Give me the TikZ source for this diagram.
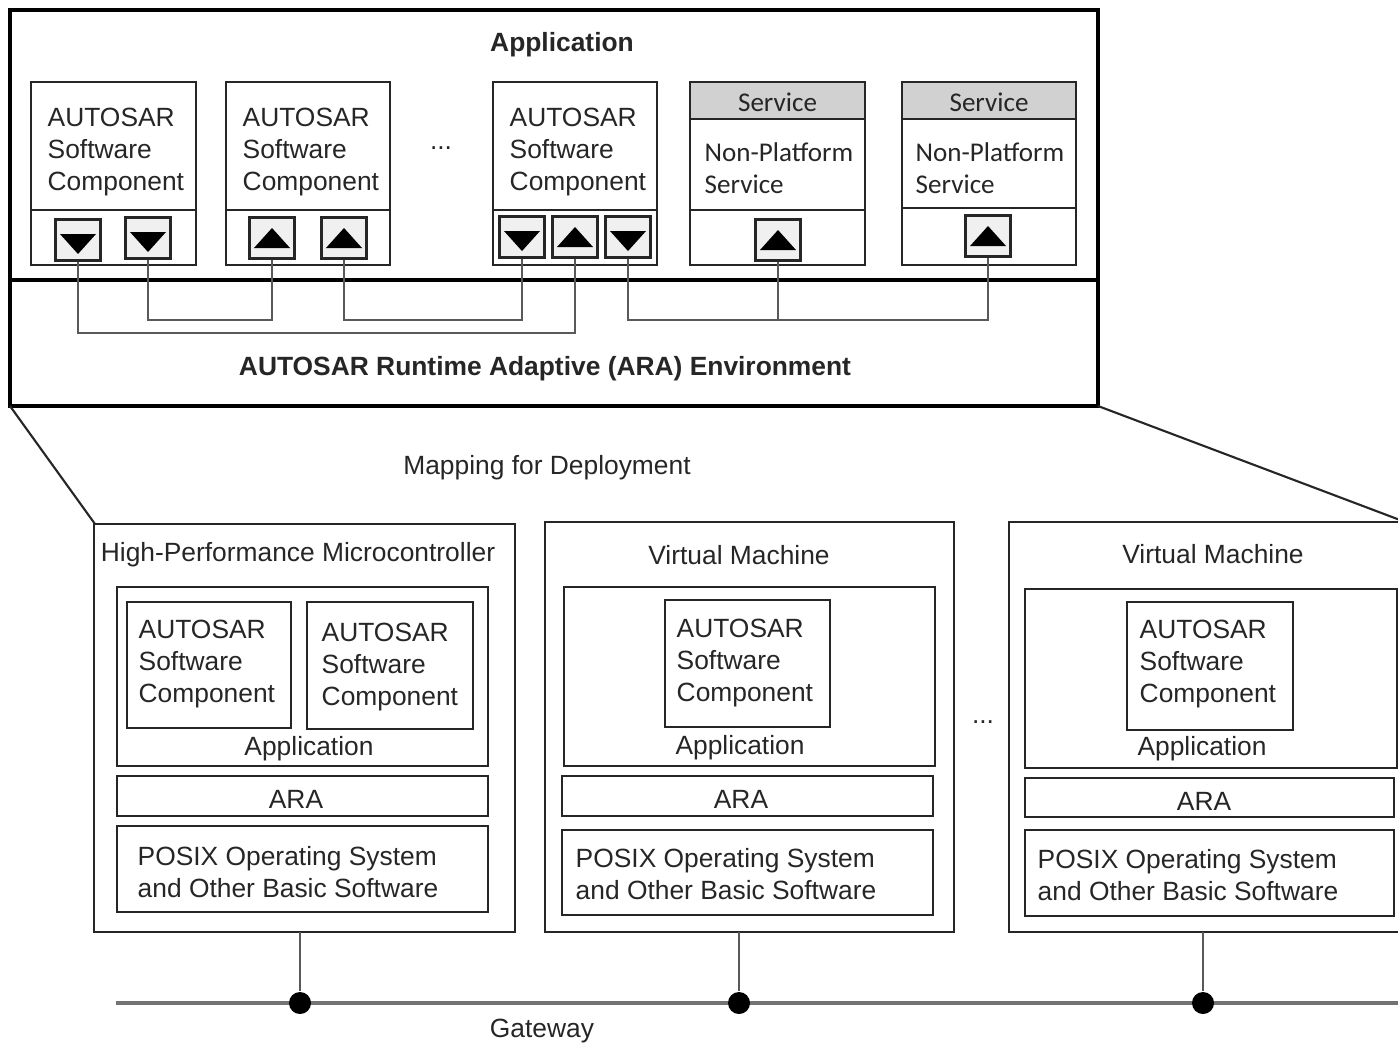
\documentclass[tikz,border=0pt]{standalone}
\usepackage{fontspec}
\setmainfont{Liberation Sans}
\newfontfamily\srvfont{Carlito}
\usetikzlibrary{positioning}

\tikzset{
  box/.style={draw=black!85, line width=.6pt, inner sep=0pt, outer sep=0pt, anchor=north west},
  frame/.style={draw=black, line width=1.1pt},
  txt/.style={inner sep=0pt, font=\fontsize{7.5}{9.1}\selectfont, text=black!85},
  multi/.style={txt, align=left, anchor=west},
  srv/.style={inner sep=0pt, font=\srvfont\fontsize{7.7}{9.1}\selectfont, text=black!85},
  port/.style={draw=black!85, line width=.6pt, fill=black!6, minimum width=.45cm, minimum height=.41cm, inner sep=0pt},
  portdown/.style={port, path picture={\fill[black] (path picture bounding box.center) +(-.18cm,.06cm) -- +(.18cm,.06cm) -- +(0,-.14cm) -- cycle;}},
  portup/.style={port, path picture={\fill[black] (path picture bounding box.center) +(-.18cm,-.1cm) -- +(.18cm,-.1cm) -- +(0,.1cm) -- cycle;}},
  wire/.style={draw=black!65, line width=.7pt},
  bus/.style={draw=black!55, line width=.9pt},
  dot/.style={circle, fill=black, minimum size=.22cm, inner sep=0pt}
}
% box: name, top-left, width, height (cm)
\newcommand{\blk}[5][]{\node[box,#1, minimum width=#4, minimum height=#5] (#2) at (#3) {};}

\begin{document}
\begin{tikzpicture}[x=0.01cm, y=-0.01cm]
\useasboundingbox (0,0) rectangle (1398,1045);
\clip (0,0) rectangle (1398,1045);

% --- Application / ARA frame
\draw[frame] (10,10) rectangle (1098,406);
\draw[frame] (10,280) -- (1098,280);
\node[txt, font=\bfseries\fontsize{7.5}{9.1}\selectfont] (apptitle) at (562,45) {Application};
\node[txt, font=\bfseries\fontsize{7.5}{9.1}\selectfont] (aratitle) at (545,369) {AUTOSAR Runtime Adaptive (ARA) Environment};

% software components
\blk{swc1}{31,82}{1.65cm}{1.83cm}
\blk{swc2}{226,82}{1.64cm}{1.83cm}
\blk{swc3}{493,82}{1.64cm}{1.83cm}
\foreach \s in {swc1,swc2,swc3}
  \draw[black!85, line width=.6pt] (\s.west |- 0,210) -- (\s.east |- 0,210);
\node[multi] at (47,152) {AUTOSAR\\Software\\Component};
\node[multi] at (242,152) {AUTOSAR\\Software\\Component};
\node[multi] at (509,152) {AUTOSAR\\Software\\Component};
\node[txt] (dots1) at (441,148) {...};

% services
\blk[fill=black!18]{srv1h}{690,82}{1.75cm}{.37cm}
\blk{srv1}{690,82}{1.75cm}{1.83cm}
\blk[fill=black!18]{srv2h}{902,82}{1.74cm}{.37cm}
\blk{srv2}{902,82}{1.74cm}{1.83cm}
\draw[black!85, line width=.6pt] (srv1.west |- 0,210) -- (srv1.east |- 0,210);
\draw[black!85, line width=.6pt] (srv2.west |- 0,208) -- (srv2.east |- 0,208);
\node[srv] at ([yshift=-.02cm]srv1h) {Service};
\node[srv] at ([yshift=-.02cm]srv2h) {Service};
\node[srv, align=left, anchor=west] at (704,168) {Non-Platform\\Service};
\node[srv, align=left, anchor=west] at (915,168) {Non-Platform\\Service};

% ports
\node[portdown] (p1a) at (78,240) {};
\node[portdown] (p1b) at (148,238) {};
\node[portup]   (p2a) at (272,238) {};
\node[portup]   (p2b) at (344,238) {};
\node[portdown] (p3a) at (522,237) {};
\node[portup]   (p3b) at (575,237) {};
\node[portdown] (p3c) at (628,237) {};
\node[portup]   (s1p) at (778,240) {};
\node[portup]   (s2p) at (988,236) {};

% connections in ARA
\coordinate (lowbus) at (0,333);
\coordinate (highbus) at (0,320);
\draw[wire] (p1a) |- (lowbus -| p3b) -- (p3b);
\draw[wire] (p1b) |- (highbus -| p2a) -- (p2a);
\draw[wire] (p2b) |- (highbus -| p3a) -- (p3a);
\draw[wire] (p3c) |- (highbus -| s2p) -- (s2p);
\draw[wire] (s1p) -- (s1p |- highbus);

% mapping
\draw[black!85, line width=.6pt] (10,406) -- (95,524);
\draw[black!85, line width=.6pt] (1098,406) -- (1400,520);
\node[txt] (mapping) at (547,468) {Mapping for Deployment};

% --- high performance microcontroller
\blk{hpm}{94,524}{4.21cm}{4.08cm}
\node[txt] at (298,555) {High-Performance Microcontroller};
\blk{hpmapp}{117,587}{3.71cm}{1.79cm}
\blk{hpmswca}{127,602}{1.64cm}{1.26cm}
\blk{hpmswcb}{307,602}{1.66cm}{1.27cm}
\node[multi] at (138,664) {AUTOSAR\\Software\\Component};
\node[multi] at (321,667) {AUTOSAR\\Software\\Component};
\node[txt] at (309,749) {Application};
\blk{hpmara}{117,776}{3.71cm}{.40cm}
\node[txt] at (296,799) {ARA};
\blk{hpmos}{117,826}{3.71cm}{.86cm}
\node[multi] at (137,872) {POSIX Operating System\\and Other Basic Software};

% --- virtual machine 1
\blk{vma}{545,522}{4.09cm}{4.10cm}
\node[txt] at (739,555) {Virtual Machine};
\blk{vmaapp}{564,587}{3.71cm}{1.79cm}
\blk{vmaswc}{665,600}{1.65cm}{1.27cm}
\node[multi] at (676,663) {AUTOSAR\\Software\\Component};
\node[txt] at (740,748) {Application};
\blk{vmaara}{562,776}{3.71cm}{.40cm}
\node[txt] at (741,799) {ARA};
\blk{vmaos}{562,830}{3.71cm}{.85cm}
\node[multi] at (575,874) {POSIX Operating System\\and Other Basic Software};

\node[txt] (dots2) at (983,722) {...};

% --- virtual machine 2
\blk{vmb}{1009,522}{4.20cm}{4.10cm}
\node[txt] at (1213,554) {Virtual Machine};
\blk{vmbapp}{1025,589}{3.72cm}{1.79cm}
\blk{vmbswc}{1127,602}{1.66cm}{1.28cm}
\node[multi] at (1139,664) {AUTOSAR\\Software\\Component};
\node[txt] at (1202,749) {Application};
\blk{vmbara}{1025,778}{3.69cm}{.39cm}
\node[txt] at (1204,801) {ARA};
\blk{vmbos}{1025,830}{3.69cm}{.86cm}
\node[multi] at (1037,875) {POSIX Operating System\\and Other Basic Software};

% --- gateway
\coordinate (gwl) at (116,1003);
\coordinate (gwr) at (1400,1003);
\draw[bus] (gwl) -- (gwr);
\node[dot] (d1) at (300,1003) {};
\node[dot] (d2) at (739,1003) {};
\node[dot] (d3) at (1203,1003) {};
\draw[wire] (hpm.south -| d1) -- (d1);
\draw[wire] (vma.south -| d2) -- (d2);
\draw[wire] (vmb.south -| d3) -- (d3);
\node[txt] (gateway) at (542,1031) {Gateway};
\end{tikzpicture}
\end{document}
